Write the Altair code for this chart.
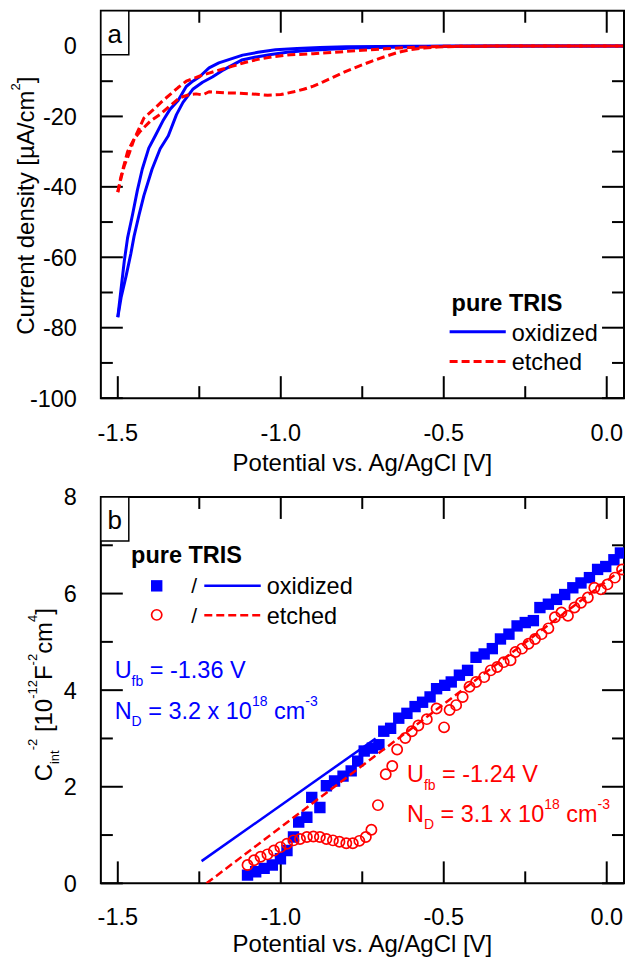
import altair as alt
import pandas as pd

FONT = "Liberation Sans"
BLUE = "#0000ff"
RED = "#ff0000"

# ---------------- panel a: cyclic voltammograms ----------------
ox_fwd_v = [0.05, -0.3, -0.5, -0.6, -0.7, -0.78, -0.85, -0.92, -0.98, -1.03, -1.08, -1.12, -1.15, -1.18,
            -1.21, -1.24, -1.27, -1.30, -1.32, -1.345, -1.37, -1.395, -1.42, -1.435, -1.45, -1.46, -1.475,
            -1.49, -1.50]
ox_fwd_j = [0.0, 0.0, -0.1, -0.2, -0.4, -0.6, -0.9, -1.3, -1.8, -2.4, -3.2, -4.0, -5.5, -7.0,
            -8.8, -10.3, -12.3, -16.0, -19.5, -25.5, -29.2, -35.0, -42.5, -48.0, -54.0, -59.0, -65.5,
            -71.5, -77.0]
ox_rev_v = [-1.50, -1.49, -1.48, -1.47, -1.455, -1.44, -1.425, -1.405, -1.385, -1.36, -1.34, -1.315, -1.29,
            -1.27, -1.25, -1.22, -1.19, -1.15, -1.117, -1.07, -1.016, -0.95, -0.88, -0.8, -0.6, -0.3, 0.05]
ox_rev_j = [-77.0, -69.0, -61.0, -54.5, -48.0, -41.0, -35.0, -29.0, -25.5, -21.0, -18.0, -15.5, -11.5,
            -10.0, -8.8, -6.2, -4.8, -3.6, -2.6, -1.8, -1.1, -0.7, -0.4, -0.2, -0.1, 0.0, 0.0]

et_fwd_v = [0.05, -0.3, -0.45, -0.52, -0.56, -0.6, -0.64, -0.68, -0.72, -0.76, -0.8, -0.84, -0.87, -0.9,
            -0.93, -0.96, -1.0, -1.04, -1.09, -1.13, -1.17, -1.2, -1.22, -1.24, -1.26, -1.28, -1.31, -1.34,
            -1.37, -1.40, -1.43, -1.45, -1.47, -1.48, -1.49, -1.5]
et_fwd_j = [0.0, 0.0, -0.1, -0.3, -0.6, -1.0, -1.8, -3.0, -4.3, -5.7, -7.2, -8.9, -10.2, -11.4,
            -12.3, -13.0, -13.8, -14.0, -13.6, -13.4, -13.3, -13.1, -13.0, -13.9, -13.6, -13.8, -14.7, -17.0,
            -19.4, -21.3, -24.1, -26.4, -30.0, -33.5, -37.0, -41.5]
et_rev_v = [-1.5, -1.49, -1.48, -1.465, -1.45, -1.43, -1.42, -1.39, -1.365, -1.34, -1.315, -1.29, -1.25,
            -1.22, -1.18, -1.15, -1.11, -1.07, -1.02, -0.97, -0.9, -0.82, -0.75, -0.68, -0.6, -0.5, -0.3, 0.05]
et_rev_j = [-41.5, -37.5, -34.0, -30.5, -26.5, -22.5, -20.5, -18.0, -15.8, -13.8, -11.8, -10.0, -8.6,
            -7.7, -6.6, -5.8, -4.7, -3.8, -3.0, -2.5, -2.2, -1.7, -1.2, -0.8, -0.4, -0.1, 0.0, 0.0]

# ---------------- panel b: Mott-Schottky ----------------
ms_ox_v = [-1.102, -1.077, -1.051, -1.026, -1.001, -0.981, -0.961, -0.945, -0.920, -0.905, -0.880, -0.860,
           -0.835, -0.809, -0.784, -0.764, -0.744, -0.719, -0.699, -0.684, -0.663, -0.638, -0.613, -0.588,
           -0.565, -0.542, -0.522, -0.497, -0.477, -0.452, -0.427, -0.401, -0.376, -0.351, -0.326, -0.300,
           -0.275, -0.250, -0.225, -0.205, -0.179, -0.154, -0.129, -0.104, -0.079, -0.053, -0.028, -0.003,
           0.022, 0.042]
ms_ox_c = [0.17, 0.24, 0.31, 0.38, 0.51, 0.68, 0.96, 1.27, 1.37, 1.78, 1.57, 2.02,
           2.12, 2.22, 2.33, 2.53, 2.74, 2.80, 2.87, 3.15, 3.21, 3.42, 3.52, 3.66,
           3.75, 3.86, 4.03, 4.10, 4.17, 4.31, 4.41, 4.68, 4.75, 4.86, 5.06, 5.16,
           5.33, 5.40, 5.44, 5.71, 5.78, 5.88, 5.98, 6.12, 6.22, 6.33, 6.50, 6.56,
           6.70, 6.84]
ms_et_v = [-1.102, -1.082, -1.062, -1.041, -1.021, -1.001, -0.981, -0.961, -0.941, -0.920, -0.900, -0.880,
           -0.860, -0.840, -0.820, -0.799, -0.779, -0.759, -0.739, -0.722, -0.702, -0.678, -0.658, -0.643,
           -0.618, -0.598, -0.578, -0.552, -0.522, -0.499, -0.482, -0.462, -0.442, -0.421, -0.401, -0.376,
           -0.356, -0.336, -0.316, -0.295, -0.280, -0.260, -0.240, -0.220, -0.200, -0.179, -0.159, -0.139,
           -0.119, -0.099, -0.079, -0.058, -0.038, -0.018, 0.002, 0.025, 0.047]
ms_et_c = [0.38, 0.48, 0.55, 0.60, 0.68, 0.75, 0.82, 0.89, 0.92, 0.96, 0.97, 0.96,
           0.92, 0.89, 0.86, 0.83, 0.83, 0.88, 0.96, 1.11, 1.62, 2.26, 2.43, 2.77,
           3.01, 3.15, 3.27, 3.40, 3.62, 3.23, 3.59, 3.69, 3.86, 4.07, 4.17, 4.27,
           4.41, 4.48, 4.58, 4.62, 4.79, 4.86, 4.96, 5.06, 5.16, 5.28, 5.51, 5.61,
           5.54, 5.71, 5.81, 5.92, 6.12, 6.09, 6.19, 6.33, 6.50]
fit_ox_v = [-1.243, -0.709]
fit_ox_c = [0.46, 3.0]
fit_et_v = [-1.228, 0.047]
fit_et_c = [0.0, 6.5]

# ticks / labels
x_major = [-1.5, -1.0, -0.5, 0.0]
x_minor = [-1.25, -0.75, -0.25]
ya_major = [-100, -80, -60, -40, -20, 0]
ya_minor = [-90, -70, -50, -30, -10]
yb_major = [0, 2, 4, 6, 8]
yb_minor = [1, 3, 5, 7]
x_title = "Potential vs. Ag/AgCl [V]"

X_DOMAIN = [-1.552, 0.053]
YA_DOMAIN = [-100, 10]
YB_DOMAIN = [0, 8]

W = 524
H1 = 388
H2 = 387
FS = 23.5

xs = alt.Scale(domain=X_DOMAIN, nice=False, zero=False)
ysa = alt.Scale(domain=YA_DOMAIN, nice=False, zero=False)
ysb = alt.Scale(domain=YB_DOMAIN, nice=False, zero=False)
one = pd.DataFrame({"k": [0]})


def px(ref_x):          # reference picture x -> panel-relative x
    return (ref_x - 101) * W / 531.0


def pya(ref_y):         # reference y -> top panel-relative y
    return (ref_y - 7) * H1 / 391.0


def pyb(ref_y):         # reference y -> bottom panel-relative y
    return (ref_y - 497) * H2 / 390.0


CW = {" ": 278, "-": 333, ".": 278, "=": 584, "[": 278, "]": 278, "/": 278, "µ": 576,
      "A": 667, "C": 722, "D": 722, "F": 611, "N": 722, "U": 722, "V": 667,
      "a": 556, "b": 556, "c": 500, "d": 556, "e": 556, "f": 278, "i": 222, "m": 833,
      "n": 556, "r": 333, "s": 500, "t": 278, "u": 556, "x": 500, "y": 500}


def tw(s, fs):
    return sum(CW.get(c, 556) for c in s) / 1000.0 * fs


def rich(pieces, x, y, color, angle=0, main=FS, small=14, sub_dy=7.5, sup_dy=-13):
    layers = []
    off = 0.0
    for txt, kind in pieces:
        fs = main if kind == "n" else small
        dy = 0 if kind == "n" else (sub_dy if kind == "sub" else sup_dy)
        stripped = txt.lstrip(" ")
        lead = tw(txt[: len(txt) - len(stripped)], fs)
        mk = dict(align="left", baseline="alphabetic", dx=off + lead, dy=dy,
                  fontSize=fs, font=FONT, color=color)
        if angle:
            mk["angle"] = angle
        layers.append(alt.Chart(one).mark_text(**mk).encode(
            x=alt.value(x), y=alt.value(y), text=alt.value(stripped)))
        off += tw(txt, fs)
    return layers


def axis_labels(H, ys, yvals, label_dy, title_dy):
    xl = pd.DataFrame({"v": x_major, "lab": [f"{v:.1f}" for v in x_major]})
    yl = pd.DataFrame({"j": yvals, "lab": [str(int(v)) for v in yvals]})
    xlab = alt.Chart(xl).mark_text(font=FONT, fontSize=FS, align="center", baseline="alphabetic",
                                   color="black").encode(
        x=alt.X("v:Q", scale=xs, axis=None), y=alt.value(H + label_dy), text="lab:N")
    ylab = alt.Chart(yl).mark_text(font=FONT, fontSize=FS, align="right", baseline="alphabetic",
                                   dy=8.4, color="black").encode(
        y=alt.Y("j:Q", scale=ys, axis=None), x=alt.value(-24), text="lab:N")
    xt = alt.Chart(one).mark_text(font=FONT, fontSize=24, align="center", baseline="alphabetic",
                                  color="black").encode(
        x=alt.value(W / 2.0), y=alt.value(H + title_dy), text=alt.value(x_title))
    return [xlab, ylab, xt]


def xticks(vals, length, top, H):
    df = pd.DataFrame({"v": vals})
    y0, y1 = (0, length) if top else (H, H - length)
    return alt.Chart(df).mark_rule(color="black", strokeWidth=2).encode(
        x=alt.X("v:Q", scale=xs, axis=None), y=alt.value(y0), y2=alt.value(y1))


def yticks(vals, length, right, ys):
    df = pd.DataFrame({"j": vals})
    x0, x1 = (W, W - length) if right else (0, length)
    return alt.Chart(df).mark_rule(color="black", strokeWidth=2).encode(
        y=alt.Y("j:Q", scale=ys, axis=None), x=alt.value(x0), x2=alt.value(x1))


def all_ticks(H, ys, ymaj, ymin):
    return [xticks(x_major, 22, False, H), xticks(x_minor, 12, False, H),
            xticks(x_major, 22, True, H), xticks(x_minor, 12, True, H),
            yticks(ymaj, 22, False, ys), yticks(ymin, 12, False, ys),
            yticks(ymaj, 22, True, ys), yticks(ymin, 12, True, ys)]


def curve(v, j, ys, color, dash=None, width=3.0):
    df = pd.DataFrame({"v": v, "j": j, "i": list(range(len(v)))})
    mk = dict(color=color, strokeWidth=width, strokeJoin="round", clip=True)
    if dash:
        mk["strokeDash"] = dash
    return alt.Chart(df).mark_line(**mk).encode(
        x=alt.X("v:Q", scale=xs, axis=None),
        y=alt.Y("j:Q", scale=ys, axis=None),
        order=alt.Order("i:Q"))


def box(letter):
    r = alt.Chart(one).mark_rect(fill="white", stroke="black", strokeWidth=1.5).encode(
        x=alt.value(0), x2=alt.value(28), y=alt.value(0), y2=alt.value(44))
    t = alt.Chart(one).mark_text(font=FONT, fontSize=26, align="center", baseline="alphabetic",
                                 color="black").encode(
        x=alt.value(14), y=alt.value(32.5), text=alt.value(letter))
    return [r, t]


def legend_line(x0, x1, y, color, dash=None, width=3.0):
    mk = dict(color=color, strokeWidth=width)
    if dash:
        mk["strokeDash"] = dash
    return alt.Chart(one).mark_rule(**mk).encode(x=alt.value(x0), x2=alt.value(x1), y=alt.value(y))


def label(txt, x, y, bold=False, size=FS, color="black"):
    return alt.Chart(one).mark_text(font=FONT, fontSize=size, align="left", baseline="alphabetic",
                                    fontWeight="bold" if bold else "normal", color=color).encode(
        x=alt.value(x), y=alt.value(y), text=alt.value(txt))


DASH = [8, 4]
SQ_SIZE = 130
CI_SIZE = 105
CI_STROKE = 1.7

# ---------------- top panel ----------------
top_layers = all_ticks(H1, ysa, ya_major, ya_minor)
top_layers += axis_labels(H1, ysa, ya_major, 43.4, 73)
top_layers += [curve(ox_fwd_v, ox_fwd_j, ysa, BLUE), curve(ox_rev_v, ox_rev_j, ysa, BLUE),
               curve(et_fwd_v, et_fwd_j, ysa, RED, DASH), curve(et_rev_v, et_rev_j, ysa, RED, DASH)]
top_layers += box("a")
top_layers += [label("pure TRIS", px(457), pya(310), bold=True),
               legend_line(px(455), px(512), pya(331), BLUE),
               legend_line(px(455), px(512), pya(361), RED, DASH),
               label("oxidized", px(518), pya(340)), label("etched", px(518), pya(370))]
top_layers += rich([("Current density [µA/cm", "n"), ("2", "sup"), ("]", "n")],
                   -67, pya(334), "black", angle=270, main=24, small=13, sup_dy=-14)
top = alt.layer(*top_layers).properties(width=W, height=H1)

# ---------------- bottom panel ----------------
sq = pd.DataFrame({"v": ms_ox_v, "c": ms_ox_c})
ci = pd.DataFrame({"v": ms_et_v, "c": ms_et_c})
bot_layers = all_ticks(H2, ysb, yb_major, yb_minor)
bot_layers += axis_labels(H2, ysb, yb_major, 42, 69)
bot_layers += [
    alt.Chart(sq).mark_point(shape="square", filled=True, size=SQ_SIZE, color=BLUE, opacity=1,
                             clip=True).encode(
        x=alt.X("v:Q", scale=xs, axis=None), y=alt.Y("c:Q", scale=ysb, axis=None)),
    alt.Chart(ci).mark_point(shape="circle", filled=False, size=CI_SIZE, strokeWidth=CI_STROKE, color=RED,
                             opacity=1, clip=True).encode(
        x=alt.X("v:Q", scale=xs, axis=None), y=alt.Y("c:Q", scale=ysb, axis=None)),
    curve(fit_ox_v, fit_ox_c, ysb, BLUE, width=2.5),
    curve(fit_et_v, fit_et_c, ysb, RED, DASH, width=2.5),
]
bot_layers += box("b")
bot_layers += [
    label("pure TRIS", px(131.7), pyb(564), bold=True),
    alt.Chart(one).mark_point(shape="square", filled=True, size=SQ_SIZE, color=BLUE, opacity=1).encode(
        x=alt.value(px(157.7)), y=alt.value(pyb(586.7))),
    alt.Chart(one).mark_point(shape="circle", filled=False, size=CI_SIZE, strokeWidth=CI_STROKE, color=RED,
                              opacity=1).encode(x=alt.value(px(157.7)), y=alt.value(pyb(616))),
    label("/", px(192.7), pyb(594), size=21), label("/", px(192.7), pyb(624), size=21),
    legend_line(px(206), px(263.3), pyb(586.7), BLUE, width=2.5),
    legend_line(px(206), px(263.3), pyb(616.3), RED, DASH, width=2.5),
    label("oxidized", px(269.3), pyb(595)), label("etched", px(269.3), pyb(625)),
]
bot_layers += rich([("U", "n"), ("fb", "sub"), (" = -1.36 V", "n")], px(115), pyb(680), BLUE)
bot_layers += rich([("N", "n"), ("D", "sub"), (" = 3.2 x 10", "n"), ("18", "sup"), (" cm", "n"),
                    ("-3", "sup")], px(115), pyb(721), BLUE)
bot_layers += rich([("U", "n"), ("fb", "sub"), (" = -1.24 V", "n")], px(411.7), pyb(785), RED)
bot_layers += rich([("N", "n"), ("D", "sub"), (" = 3.1 x 10", "n"), ("18", "sup"), (" cm", "n"),
                    ("-3", "sup")], px(411.7), pyb(825), RED)
bot_layers += rich([("C", "n"), ("int", "sub"), ("-2", "sup"), (" [10", "n"), ("-12", "sup"), ("F", "n"),
                    ("-2", "sup"), ("cm", "n"), ("4", "sup"), ("]", "n")],
                   -49, pyb(784), "black", angle=270, main=24, small=13, sub_dy=7, sup_dy=-15)
bottom = alt.layer(*bot_layers).properties(width=W, height=H2)

chart = alt.vconcat(top, bottom, spacing=8).properties(
    padding=0
).configure(padding=0).configure_view(stroke="black", strokeWidth=2)

chart.save("out.html", embed_options={"renderer": "svg", "actions": False})
